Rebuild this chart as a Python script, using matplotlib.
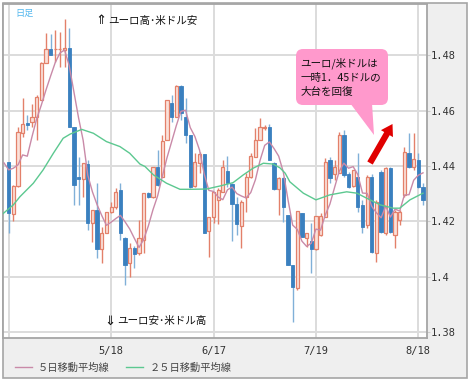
import numpy as np
import matplotlib.pyplot as plt
from matplotlib.patches import FancyBboxPatch, Polygon, Rectangle
from matplotlib.ticker import FuncFormatter

plt.rcParams['font.family'] = ['Noto Sans CJK JP', 'DejaVu Sans']

# daily EUR/USD candles
opens = [1.4416, 1.4226, 1.4329, 1.4520, 1.4554, 1.4560, 1.4578, 1.4638, 1.4771, 1.4822,
         1.4820, 1.4820, 1.4818, 1.4825, 1.4541, 1.4360, 1.4353, 1.4407, 1.4195, 1.4241,
         1.4101, 1.4159, 1.4234, 1.4252, 1.4314, 1.4141, 1.4051, 1.4105, 1.4087, 1.4133,
         1.4303, 1.4289, 1.4398, 1.4361, 1.4494, 1.4627, 1.4578, 1.4688, 1.4578, 1.4512,
         1.4329, 1.4412, 1.4443, 1.4167, 1.4216, 1.4278, 1.4307, 1.4383, 1.4335, 1.4263,
         1.4184, 1.4289, 1.4361, 1.4434, 1.4494, 1.4537, 1.4542, 1.4411, 1.4317, 1.4357,
         1.4223, 1.4043, 1.3959, 1.4232, 1.4141, 1.4131, 1.4101, 1.4151, 1.4217, 1.4422,
         1.4371, 1.4375, 1.4512, 1.4371, 1.4328, 1.4361, 1.4260, 1.4187, 1.4361, 1.4088,
         1.4379, 1.4160, 1.4392, 1.4151, 1.4205, 1.4296, 1.4446, 1.4398, 1.4422, 1.4325]
highs = [1.4416, 1.4332, 1.4542, 1.4646, 1.4584, 1.4622, 1.4656, 1.4775, 1.4879, 1.4876,
         1.4890, 1.4883, 1.4930, 1.4897, 1.4541, 1.4432, 1.4411, 1.4422, 1.4241, 1.4339,
         1.4180, 1.4234, 1.4270, 1.4321, 1.4339, 1.4144, 1.4123, 1.4112, 1.4205, 1.4303,
         1.4306, 1.4398, 1.4458, 1.4512, 1.4638, 1.4656, 1.4692, 1.4692, 1.4645, 1.4512,
         1.4447, 1.4452, 1.4443, 1.4216, 1.4307, 1.4321, 1.4422, 1.4436, 1.4339, 1.4289,
         1.4278, 1.4375, 1.4448, 1.4537, 1.4573, 1.4548, 1.4551, 1.4416, 1.4361, 1.4361,
         1.4223, 1.4043, 1.4239, 1.4232, 1.4159, 1.4195, 1.4220, 1.4230, 1.4428, 1.4434,
         1.4422, 1.4524, 1.4530, 1.4379, 1.4386, 1.4448, 1.4278, 1.4368, 1.4370, 1.4278,
         1.4386, 1.4398, 1.4398, 1.4241, 1.4241, 1.4470, 1.4518, 1.4518, 1.4446, 1.4338]
lows = [1.4158, 1.4203, 1.4325, 1.4506, 1.4530, 1.4542, 1.4494, 1.4638, 1.4771, 1.4800,
        1.4775, 1.4757, 1.4757, 1.4541, 1.4260, 1.4260, 1.4288, 1.4169, 1.4126, 1.4069,
        1.4051, 1.4159, 1.4231, 1.4245, 1.4133, 1.3971, 1.4000, 1.4032, 1.4079, 1.4087,
        1.4285, 1.4285, 1.4328, 1.4361, 1.4494, 1.4560, 1.4578, 1.4566, 1.4483, 1.4321,
        1.4325, 1.4375, 1.4159, 1.4073, 1.4195, 1.4191, 1.4307, 1.4325, 1.4131, 1.4151,
        1.4105, 1.4235, 1.4357, 1.4434, 1.4494, 1.4530, 1.4422, 1.4314, 1.4223, 1.4199,
        1.4043, 1.3839, 1.3953, 1.4143, 1.4109, 1.4014, 1.4097, 1.4148, 1.4217, 1.4338,
        1.4350, 1.4375, 1.4361, 1.4320, 1.4325, 1.4235, 1.4158, 1.4176, 1.4085, 1.4055,
        1.4158, 1.4151, 1.4158, 1.4103, 1.4188, 1.4289, 1.4392, 1.4386, 1.4320, 1.4260]
closes = [1.4230, 1.4329, 1.4521, 1.4550, 1.4547, 1.4578, 1.4650, 1.4770, 1.4822, 1.4800,
          1.4822, 1.4822, 1.4825, 1.4541, 1.4332, 1.4353, 1.4411, 1.4195, 1.4241, 1.4101,
          1.4159, 1.4234, 1.4252, 1.4306, 1.4159, 1.4043, 1.4105, 1.4083, 1.4141, 1.4303,
          1.4288, 1.4398, 1.4332, 1.4491, 1.4638, 1.4577, 1.4688, 1.4591, 1.4512, 1.4325,
          1.4416, 1.4443, 1.4160, 1.4216, 1.4307, 1.4314, 1.4396, 1.4339, 1.4263, 1.4191,
          1.4270, 1.4361, 1.4436, 1.4494, 1.4541, 1.4541, 1.4422, 1.4317, 1.4357, 1.4253,
          1.4043, 1.3965, 1.4239, 1.4145, 1.4159, 1.4100, 1.4220, 1.4220, 1.4416, 1.4357,
          1.4398, 1.4512, 1.4368, 1.4325, 1.4386, 1.4253, 1.4181, 1.4361, 1.4091, 1.4271,
          1.4163, 1.4392, 1.4163, 1.4235, 1.4235, 1.4452, 1.4398, 1.4424, 1.4325, 1.4278]
# closes before the first visible day (feed the 5-day average)
prior_closes = [1.4355, 1.4299, 1.4461, 1.4370, 1.4570]

# 25-day moving average
ma25_pos = [-1.3, 1, 2.4, 5.3, 7.4, 9.6, 11.7, 13.2, 15.7, 18.2, 21, 23.9, 26, 28.2, 29.3,
            31.1, 33.9, 36.8, 38.9, 42.5, 45.4, 48.2, 50.4, 52.5, 54.7, 56.8, 58.3, 59.4,
            60.4, 63.3, 66, 69, 72.6, 74.8, 76.9, 79.8, 82.6, 84, 86.2, 89]
ma25_vals = [1.4227, 1.4260, 1.4289, 1.4338, 1.4386, 1.4446, 1.4500, 1.4515, 1.4532, 1.4518,
             1.4488, 1.4470, 1.4446, 1.4407, 1.4398, 1.4368, 1.4338, 1.4316, 1.4316, 1.4317,
             1.4328, 1.4340, 1.4368, 1.4392, 1.4410, 1.4407, 1.4393, 1.4374, 1.4343, 1.4302,
             1.4278, 1.4296, 1.4307, 1.4302, 1.4284, 1.4260, 1.4248, 1.4248, 1.4278, 1.4302]

tick_pos = [0, 22, 44, 66, 88]
tick_labels = ['', '5/18', '6/17', '7/19', '8/18']
y_ticks = [1.38, 1.40, 1.42, 1.44, 1.46, 1.48]

RED = '#e3806a'
RED_FILL = '#fbe1d9'
BLUE = '#3a80bf'
BLUE_WICK = '#80b0d8'
MA5_COLOR = '#c98aa8'
MA25_COLOR = '#5cc890'

o = np.array(opens)
h = np.array(highs)
l = np.array(lows)
c = np.array(closes)
x = np.arange(len(c))
up = c >= o

full = np.concatenate([prior_closes, c])
ma5 = np.convolve(full, np.ones(5) / 5, mode='valid')
ma5_x = np.arange(len(ma5)) - (len(prior_closes) - 4)

W, H = 471, 383
fig = plt.figure(figsize=(W / 100, H / 100), dpi=100)
fig.patches.append(Rectangle((2.5 / W, 1 - 377.5 / H), 464.5 / W, 374.5 / H,
                             transform=fig.transFigure, fc='#efefef', ec='#a5a5a5',
                             lw=1.2, zorder=-1))

ax = fig.add_axes([3 / W, 1 - 338 / H, 424 / W, 334 / H])
ax.set_facecolor('white')

# candles
ax.vlines(x[up], l[up], h[up], color=RED, lw=1, zorder=2)
ax.vlines(x[~up], l[~up], h[~up], color=BLUE_WICK, lw=1, zorder=2)
ax.bar(x[up], (c - o)[up], bottom=o[up], width=0.68, facecolor=RED_FILL,
       edgecolor=RED, linewidth=0.9, zorder=3)
ax.bar(x[~up], (o - c)[~up], bottom=c[~up], width=0.72, facecolor=BLUE,
       edgecolor=BLUE, linewidth=0.6, zorder=3)

ax.plot(ma5_x, ma5, color=MA5_COLOR, lw=1, zorder=4, label='５日移動平均線')
ax.plot(ma25_pos, ma25_vals, color=MA25_COLOR, lw=1, zorder=4, label='２５日移動平均線')

ax.set_xlim(-1.22, 89.86)
ax.set_ylim(1.378, 1.4984)
ax.set_xticks(tick_pos)
ax.set_xticklabels(tick_labels, family='DejaVu Sans Mono', fontsize=7.5, color='#333333')
ax.set_yticks(y_ticks)
ax.yaxis.set_major_formatter(FuncFormatter(lambda v, p: f'{v:g}'))
ax.yaxis.tick_right()
ax.tick_params(axis='y', length=2, pad=1, color='#cccccc')
ax.tick_params(axis='x', length=0, pad=6)
for lab in ax.get_yticklabels():
    lab.set_family('DejaVu Sans Mono')
    lab.set_fontsize(7.5)
    lab.set_color('#333333')
ax.grid(True, color='#dcdcdc', lw=1.4, zorder=0)
ax.set_axisbelow(True)
for s in ax.spines.values():
    s.set_color('#a5a5a5')
    s.set_linewidth(1.3)

fig.legend(loc='center left', bbox_to_anchor=(15 / W, 1 - 367.5 / H), ncol=2,
           frameon=False, fontsize=7.4, handlelength=1.65, handletextpad=0.6,
           columnspacing=1.6, borderpad=0, borderaxespad=0, labelcolor='#444444')

# overlay in pixel coordinates for the notes
ov = fig.add_axes([0, 0, 1, 1], zorder=5)
ov.set_xlim(0, W)
ov.set_ylim(H, 0)
ov.axis('off')

ov.text(15, 13, '日足', color='#55b8ee', fontsize=6.6, va='center')
ov.text(95, 21, '⇑', fontsize=9.5, va='center', color='#111111', family='DejaVu Sans')
ov.text(108, 21, 'ユーロ高･米ドル安', fontsize=7.6, va='center', color='#111111')
ov.text(104, 321, '⇓', fontsize=9.5, va='center', color='#111111', family='DejaVu Sans')
ov.text(117, 321, 'ユーロ安･米ドル高', fontsize=7.6, va='center', color='#111111')

ov.add_patch(FancyBboxPatch((296, 49), 92, 56, boxstyle='round,pad=0,rounding_size=7',
                            fc='#ff99cc', ec='none'))
ov.add_patch(Polygon([(350, 103), (372, 103), (374, 135)], closed=True,
                     fc='#ff99cc', ec='none'))
for yy, line in zip([63, 78, 92.5], ['ユーロ/米ドルは', '一時1．45ドルの', '大台を回復']):
    ov.text(300.5, yy, line, fontsize=7.6, va='center', color='#111111')

ov.annotate('', xy=(392.5, 124), xytext=(370, 163),
            arrowprops=dict(arrowstyle='simple,head_length=0.8,head_width=1.0,tail_width=0.45',
                            fc='#e00000', ec='none', shrinkA=0, shrinkB=0))

fig.savefig('out.png', dpi=100)
